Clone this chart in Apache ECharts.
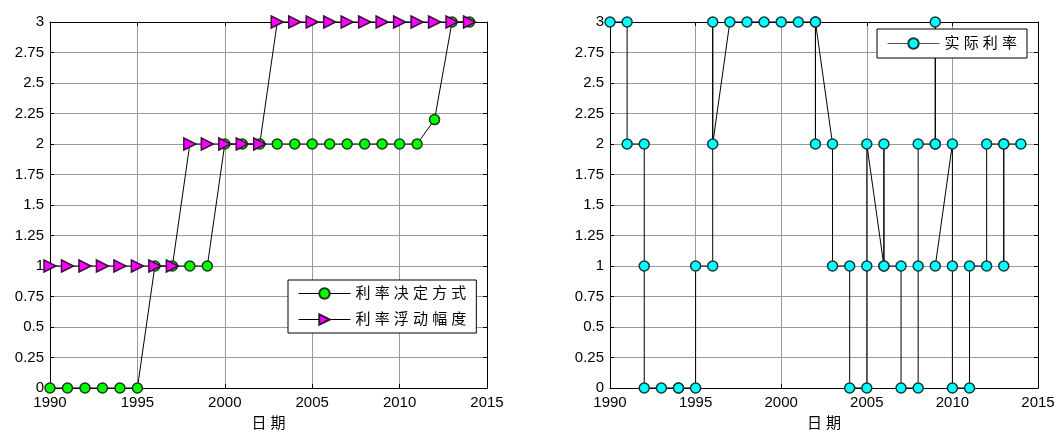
<!DOCTYPE html>
<html>
<head>
<meta charset="utf-8">
<script src="https://cdn.jsdelivr.net/npm/echarts@6/dist/echarts.min.js"></script>
<style>
html,body{margin:0;padding:0;background:#fff;}
#chart{width:1055px;height:430px;}
</style>
</head>
<body>
<div id="chart"></div>
<script>
// 左图: 每年一个点
var years = [1990,1991,1992,1993,1994,1995,1996,1997,1998,1999,2000,2001,2002,2003,2004,2005,2006,2007,2008,2009,2010,2011,2012,2013,2014];
var decisionMode = [0,0,0,0,0,0,1,1,1,1,2,2,2,2,2,2,2,2,2,2,2,2,2.2,3,3];
var floatRange = [1,1,1,1,1,1,1,1,2,2,2,2,2,3,3,3,3,3,3,3,3,3,3,3,3];

// 右图: 实际利率 (null = 断开)
var realDates = [1990,1991,1991,1992,1992,1992,1993,1994,1994,1995,1995,1996,1996,1996,1997,1998,1999,2000,2001,2002,2002,2002,2003,2003,2004,2004,2005,2005,2005,2006,2006,2006,2007,2007,2008,2008,2008,2009,2009,2009,null,2009,2010,2010,2010,2011,2011,2012,2012,2013,2013,2013,2014];
var realValues = [3,3,2,2,1,0,0,0,0,0,1,1,3,2,3,3,3,3,3,3,2,3,2,1,1,0,0,1,2,1,2,1,1,0,0,1,2,2,3,2,null,1,2,1,0,0,1,1,2,2,1,2,2];

var xTicks = [1990,2015,5];
var yTicks = [0,3,0.25];

var font = "'Liberation Sans', 'Noto Sans CJK SC', sans-serif";

function pairs(xs, ys){
	var out = [];
	for (var i = 0; i < xs.length; i++) {
		if (xs[i] === null || ys[i] === null) out.push(['-','-']);
		else out.push([xs[i], ys[i]]);
	}
	return out;
}

function spaced(name){
	return name.split('').join(' ');
}

function xAxes(gi){
	var base = {
		type:'value', gridIndex:gi, min:xTicks[0], max:xTicks[1], interval:xTicks[2],
		axisLine:{show:true, onZero:false, lineStyle:{color:'#000', width:1}},
		axisTick:{show:true, inside:true, length:4, lineStyle:{color:'#000'}}
	};
	return [
		Object.assign({}, base, {
			position:'bottom',
			name:'日 期', nameLocation:'middle', nameGap:28,
			nameTextStyle:{color:'#000', fontSize:15, fontFamily:font},
			axisLabel:{color:'#000', fontSize:15, fontFamily:font, margin:7, formatter:function(v){return String(v);}},
			splitLine:{show:true, lineStyle:{color:'#9a9a9a', width:1}}
		}),
		Object.assign({}, base, {
			position:'top', axisLabel:{show:false}, splitLine:{show:false}
		})
	];
}

function yAxes(gi){
	var base = {
		type:'value', gridIndex:gi, min:yTicks[0], max:yTicks[1], interval:yTicks[2],
		axisLine:{show:true, onZero:false, lineStyle:{color:'#000', width:1}},
		axisTick:{show:true, inside:true, length:4, lineStyle:{color:'#000'}}
	};
	return [
		Object.assign({}, base, {
			position:'left',
			axisLabel:{color:'#000', fontSize:15, fontFamily:font, margin:6},
			splitLine:{show:true, lineStyle:{color:'#9a9a9a', width:1}}
		}),
		Object.assign({}, base, {
			position:'right', axisLabel:{show:false}, splitLine:{show:false}
		})
	];
}

var myChart = echarts.init(document.getElementById('chart'));
var option = {
	animation:false,
	backgroundColor:'#fff',
	grid:[
		{left:50, right:568, top:22, bottom:42, containLabel:false, outerBoundsMode:'none'},
		{left:610, right:17, top:22, bottom:42, containLabel:false, outerBoundsMode:'none'}
	],
	xAxis: xAxes(0).concat(xAxes(1)),
	yAxis: yAxes(0).concat(yAxes(1)),
	legend:[
		{
			data:['利率决定方式','利率浮动幅度'],
			orient:'vertical', left:288, top:280,
			itemWidth:52, itemHeight:13, itemGap:11,
			padding:[6,10,6,10],
			borderColor:'#000', borderWidth:1, borderRadius:0,
			backgroundColor:'#fff',
			lineStyle:{width:1, color:'#000'},
			formatter:spaced,
			textStyle:{color:'#000', fontSize:15, fontFamily:font}
		},
		{
			data:['实际利率'],
			orient:'vertical', left:877, top:29,
			itemWidth:52, itemHeight:13,
			padding:[7,10,7,10],
			borderColor:'#000', borderWidth:1, borderRadius:0,
			backgroundColor:'#fff',
			lineStyle:{width:1, color:'#555'},
			formatter:spaced,
			textStyle:{color:'#000', fontSize:15, fontFamily:font}
		}
	],
	series:[
		{
			name:'利率决定方式', type:'line', xAxisIndex:0, yAxisIndex:0,
			data:pairs(years, decisionMode),
			symbol:'circle', symbolSize:10, clip:false,
			lineStyle:{color:'#000', width:1},
			itemStyle:{color:'#00ff00', borderColor:'#1a3a1a', borderWidth:1.5}
		},
		{
			name:'利率浮动幅度', type:'line', xAxisIndex:0, yAxisIndex:0,
			data:pairs(years, floatRange),
			symbol:'triangle', symbolRotate:-90, symbolSize:[12,12], clip:false,
			lineStyle:{color:'#000', width:1},
			itemStyle:{color:'#ff00ff', borderColor:'#3a103a', borderWidth:1.5}
		},
		{
			name:'实际利率', type:'line', xAxisIndex:2, yAxisIndex:2,
			data:pairs(realDates, realValues),
			symbol:'circle', symbolSize:10, clip:false, connectNulls:false,
			lineStyle:{color:'#000', width:1},
			itemStyle:{color:'#00ffff', borderColor:'#103a3a', borderWidth:1.5}
		}
	]
};
myChart.setOption(option);
</script>
</body>
</html>
